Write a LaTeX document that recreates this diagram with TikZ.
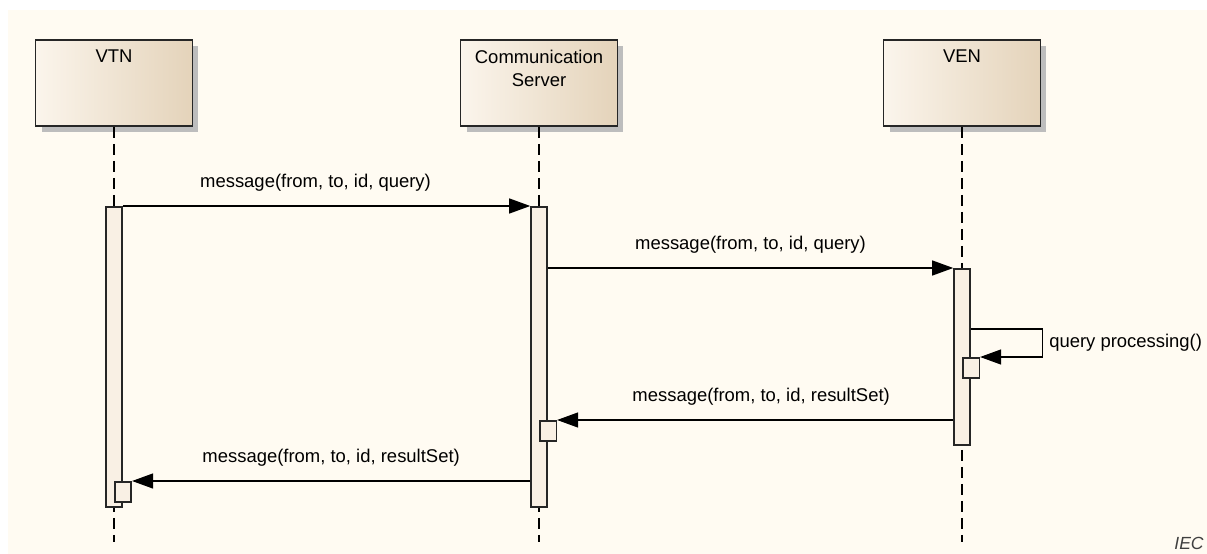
\documentclass[tikz,border=0pt]{standalone}
\usepackage{fontspec}
\setmainfont{Liberation Sans}
\usetikzlibrary{arrows.meta,shadows}
\definecolor{bgcream}{HTML}{FFFBF2}
\definecolor{actfill}{HTML}{F9F0E4}
\definecolor{headleft}{HTML}{FBF5EC}
\definecolor{headright}{HTML}{E4D3BA}
\definecolor{shadowgray}{HTML}{BDBDBD}
\tikzset{
  head/.style={draw=black!85, line width=1.1pt, minimum width=3.14cm, minimum height=1.72cm,
    left color=headleft, right color=headright,
    drop shadow={shadow xshift=0.12cm, shadow yshift=-0.12cm, fill=shadowgray, opacity=1}},
  act/.style={draw=black!85, line width=0.9pt, fill=actfill, minimum width=0.32cm, inner sep=0pt, anchor=north},
  subact/.style={act, minimum width=0.33cm, minimum height=0.4cm, anchor=north west},
  lifeline/.style={line width=0.8pt, dash pattern=on 0.22cm off 0.12cm},
  msg/.style={-{Triangle[length=0.42cm,width=0.3cm]}, line width=0.7pt}
}
\begin{document}
\begin{tikzpicture}[x=0.02cm, y=-0.02cm, font=\fontsize{10.5}{13}\selectfont]
  \useasboundingbox (0,0) rectangle (1207,554);
  % Hintergrund
  \fill[bgcream] (8,10) rectangle (1207,554);
  % Köpfe
  \node[head, label={[anchor=north, yshift=-0.1cm]north:VTN}] (vtn) at (114,83) {};
  \node[head, label={[anchor=north, yshift=-0.1cm, align=center]north:Communication\\Server}] (cs) at (539,83) {};
  \node[head, label={[anchor=north, yshift=-0.1cm]north:VEN}] (ven) at (962,83) {};
  % Lebenslinien
  \coordinate (vtnend) at (114,542);
  \coordinate (csend) at (539,542);
  \coordinate (venend) at (962,542);
  \draw[lifeline] (vtn.south) -- (vtnend);
  \draw[lifeline] (cs.south) -- (csend);
  \draw[lifeline] (ven.south) -- (venend);
  % Aktivierungen
  \node[act, minimum height=6cm] (vtnact) at (114,206) {};
  \node[act, minimum height=6cm] (csact) at (539,206) {};
  \node[act, minimum height=3.52cm] (venact) at (962,268) {};
  \node[subact] (vtnsub) at (114,481) {};
  \node[subact] (cssub) at (539,420) {};
  \node[subact] (vensub) at (962,357) {};
  % Nachrichten
  \draw[msg] (vtnact.north east) -- (csact.north west)
    node[midway, above=0.16cm, xshift=-0.22cm] {message(from, to, id, query)};
  \draw[msg] (csact.east |- venact.north) -- (venact.north west)
    node[midway, above=0.16cm] {message(from, to, id, query)};
  \draw[msg] ([yshift=-1.22cm]venact.north east) -- ++(72,0) |- (vensub.north east)
    node[pos=0.25, right] {query processing()};
  \draw[msg] (venact.west |- cssub.north east) -- (cssub.north east)
    node[midway, above=0.16cm, xshift=0.12cm] {message(from, to, id, resultSet)};
  \draw[msg] (csact.west |- vtnsub.north east) -- (vtnsub.north east)
    node[midway, above=0.16cm] {message(from, to, id, resultSet)};
  % Quelle
  \node[anchor=base east, inner sep=0pt, text=black!75, font=\itshape\fontsize{10}{12}\selectfont] (iec) at (1204,549) {IEC};
\end{tikzpicture}
\end{document}
